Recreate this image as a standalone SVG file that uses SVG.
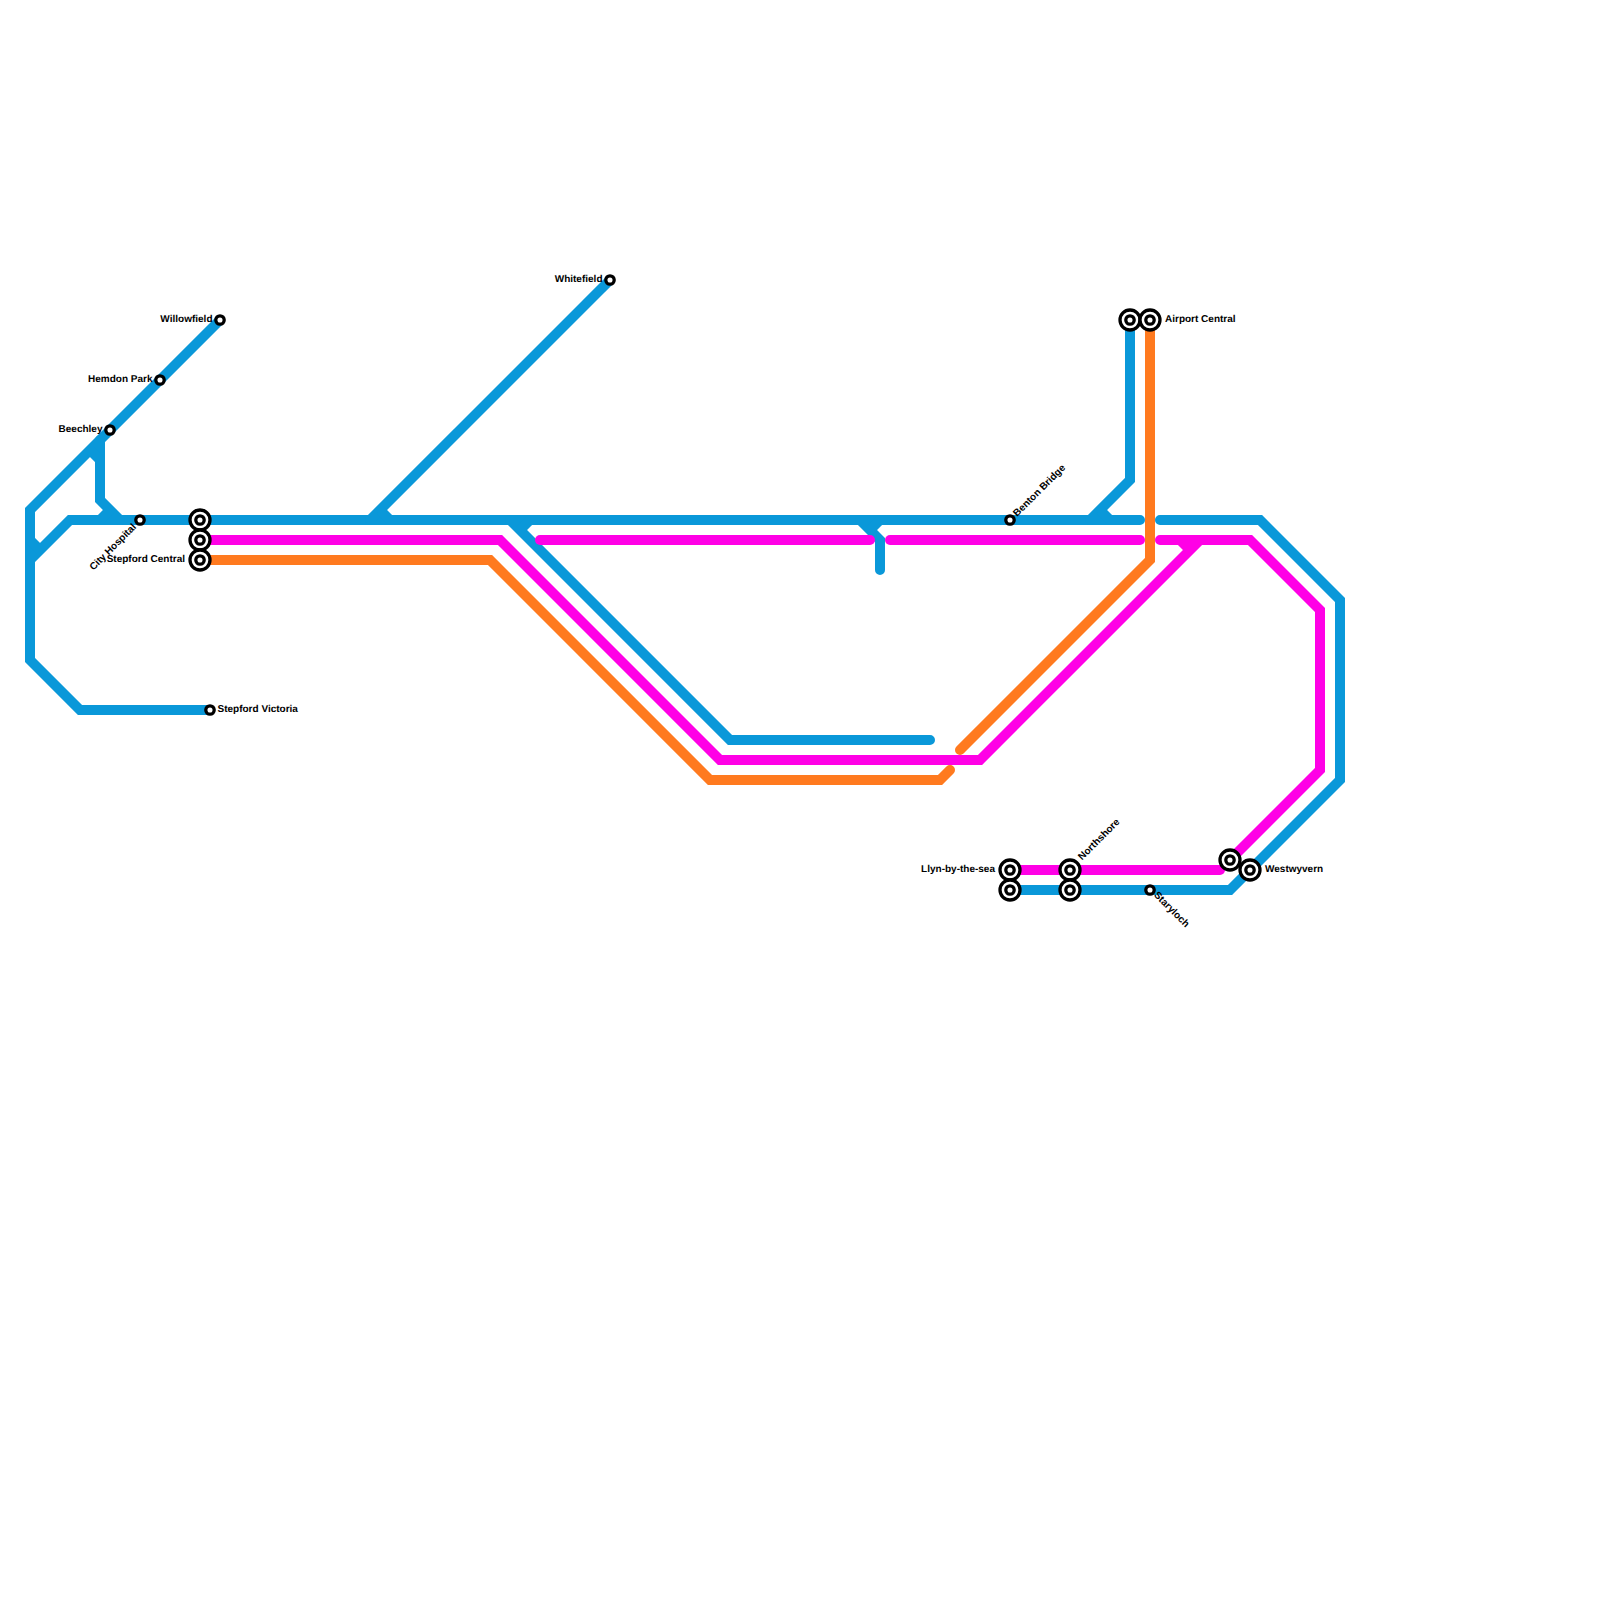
<svg xmlns="http://www.w3.org/2000/svg" width="1600" height="1600" viewBox="0 0 1600 1600">
<style>
.l{fill:none;stroke-width:10;stroke-linejoin:miter;stroke-linecap:round}
.s{fill:none;stroke-width:10;stroke-linecap:butt}
.b{stroke:#0a98d9}.m{stroke:#ff00e6}.o{stroke:#ff7a1f}
.st{fill:#fff;stroke:#000;stroke-width:3.3}
text{font-family:"Liberation Sans",Arial,sans-serif;font-size:10px;font-weight:700;fill:#000;text-rendering:geometricPrecision}
.e{text-anchor:end}
</style>
<rect width="1600" height="1600" fill="#fff"/>
<g id="connectors">
<g id="line-blue">
<path class="l b" d="M220 320L30 510V660L80 710H210"/>
<path class="l b" d="M30 560L70 520H1140"/>
<path class="l b" d="M1160 520H1260L1340 600V780L1230 890H1010"/>
<path class="l b" d="M100 440V500L120 520"/>
<path class="l b" d="M610 280L370 520"/>
<path class="l b" d="M510 520L730 740H930"/>
<path class="l b" d="M860 520L880 540V570"/>
<path class="l b" d="M1090 520L1130 480V320"/>
<path class="s b" d="M100 460L90 450M30 540L40 550M100 520L110 510M380 510L390 520M530 520L520 530M880 520L870 530M1100 510L1110 520"/>
</g>
<g id="line-magenta">
<path class="l m" d="M200 540H500L720 760H980L1200 540"/>
<path class="l m" d="M540 540H870"/>
<path class="l m" d="M890 540H1140"/>
<path class="l m" d="M1160 540H1250L1320 610V770L1230 860"/>
<path class="l m" d="M1010 870H1220"/>
<path class="s m" d="M1180 540L1190 550"/>
</g>
<g id="line-orange">
<path class="l o" d="M200 560H490L710 780H940L950 770"/>
<path class="l o" d="M960 750L1150 560V320"/>
</g>
</g>
<g id="willowfield"><circle class="st" cx="220" cy="320" r="4.2"/><text class="e" x="212.500" y="322">Willowfield</text></g>
<g id="hemdon-park"><circle class="st" cx="160" cy="380" r="4.2"/><text class="e" x="152.500" y="382">Hemdon Park</text></g>
<g id="beechley"><circle class="st" cx="110" cy="430" r="4.2"/><text class="e" x="102.500" y="432">Beechley</text></g>
<g id="city-hospital"><circle class="st" cx="140" cy="520" r="4.2"/><text class="e" transform="translate(134.500 525.500) rotate(-45)" x="0" y="3">City Hospital</text></g>
<g id="interchange-blue"><circle class="st" cx="200" cy="520" r="10"/><circle class="st" cx="200" cy="520" r="4.2"/></g>
<g id="interchange-magenta"><circle class="st" cx="200" cy="540" r="10"/><circle class="st" cx="200" cy="540" r="4.2"/></g>
<g id="stepford-central"><circle class="st" cx="200" cy="560" r="10"/><circle class="st" cx="200" cy="560" r="4.2"/><text class="e" x="185" y="562">Stepford Central</text></g>
<g id="stepford-victoria"><circle class="st" cx="210" cy="710" r="4.2"/><text x="217.500" y="712">Stepford Victoria</text></g>
<g id="whitefield"><circle class="st" cx="610" cy="280" r="4.2"/><text class="e" x="602.500" y="282">Whitefield</text></g>
<g id="benton-bridge"><circle class="st" cx="1010" cy="520" r="4.2"/><text transform="translate(1015 515) rotate(-45)" x="0" y="3">Benton Bridge</text></g>
<g id="airport-west"><circle class="st" cx="1130" cy="320" r="10"/><circle class="st" cx="1130" cy="320" r="4.2"/></g>
<g id="airport-central"><circle class="st" cx="1150" cy="320" r="10"/><circle class="st" cx="1150" cy="320" r="4.2"/><text x="1165" y="322">Airport Central</text></g>
<g id="llyn-by-the-sea"><circle class="st" cx="1010" cy="870" r="10"/><circle class="st" cx="1010" cy="870" r="4.2"/><text class="e" x="995" y="872">Llyn-by-the-sea</text></g>
<g id="llyn-blue"><circle class="st" cx="1010" cy="890" r="10"/><circle class="st" cx="1010" cy="890" r="4.2"/></g>
<g id="northshore"><circle class="st" cx="1070" cy="870" r="10"/><circle class="st" cx="1070" cy="870" r="4.2"/><text transform="translate(1080 858.500) rotate(-45)" x="0" y="3">Northshore</text></g>
<g id="northshore-blue"><circle class="st" cx="1070" cy="890" r="10"/><circle class="st" cx="1070" cy="890" r="4.2"/></g>
<g id="staryloch"><circle class="st" cx="1150" cy="890" r="4.2"/><text transform="translate(1155.500 893.500) rotate(45)" x="0" y="3">Staryloch</text></g>
<g id="westwyvern-magenta"><circle class="st" cx="1230" cy="860" r="10"/><circle class="st" cx="1230" cy="860" r="4.2"/></g>
<g id="westwyvern"><circle class="st" cx="1250" cy="870" r="10"/><circle class="st" cx="1250" cy="870" r="4.2"/><text x="1265" y="872">Westwyvern</text></g>
</svg>
